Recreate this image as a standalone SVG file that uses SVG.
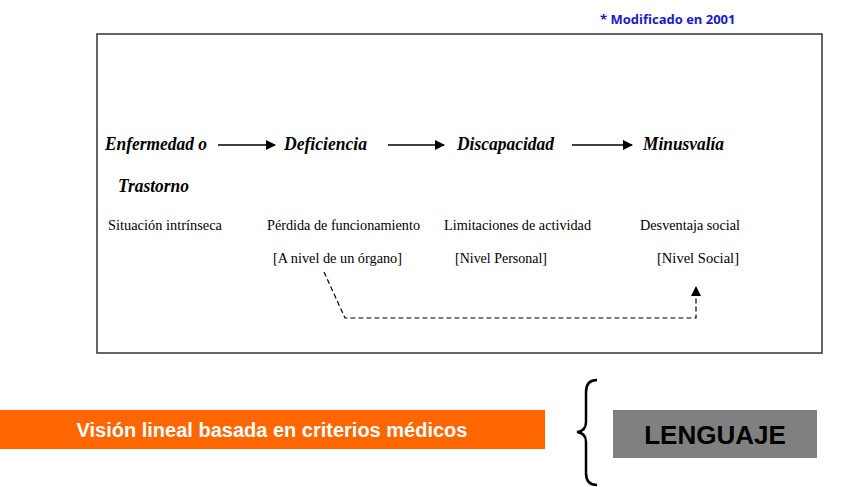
<svg xmlns="http://www.w3.org/2000/svg" width="847" height="487" viewBox="0 0 847 487">
<style>
.h{font-family:"Liberation Serif",serif;font-style:italic;font-weight:bold;font-size:19px;fill:#000}
.s{font-family:"Liberation Serif",serif;font-size:15px;fill:#000}
</style>
<defs><marker id="a" markerWidth="10" markerHeight="10" refX="9" refY="5" orient="auto" markerUnits="userSpaceOnUse"><path d="M0,0L10,5L0,10z" fill="#000"/></marker></defs>
<rect width="847" height="487" fill="#fff"/>
<text x="600" y="24" font-family="Open Sans,sans-serif" font-weight="bold" font-size="13" fill="#1a1acc">* Modificado en 2001</text>
<rect x="97" y="34" width="725" height="319" fill="none" stroke="#333" stroke-width="1.5"/>
<g id="n1"><text class="h" x="105" y="150" textLength="102" lengthAdjust="spacingAndGlyphs">Enfermedad o</text><text class="h" x="118" y="192" textLength="71" lengthAdjust="spacingAndGlyphs">Trastorno</text><text class="s" x="108" y="230" textLength="114" lengthAdjust="spacingAndGlyphs">Situación intrínseca</text></g>
<g id="n2"><text class="h" x="284" y="150" textLength="83" lengthAdjust="spacingAndGlyphs">Deficiencia</text><text class="s" x="267" y="230" textLength="153" lengthAdjust="spacingAndGlyphs">Pérdida de funcionamiento</text><text class="s" x="273" y="263" textLength="129" lengthAdjust="spacingAndGlyphs">[A nivel de un órgano]</text></g>
<g id="n3"><text class="h" x="457" y="150" textLength="97" lengthAdjust="spacingAndGlyphs">Discapacidad</text><text class="s" x="444" y="230" textLength="147" lengthAdjust="spacingAndGlyphs">Limitaciones de actividad</text><text class="s" x="455" y="263" textLength="92" lengthAdjust="spacingAndGlyphs">[Nivel Personal]</text></g>
<g id="n4"><text class="h" x="643" y="150" textLength="81" lengthAdjust="spacingAndGlyphs">Minusvalía</text><text class="s" x="640" y="230" textLength="100" lengthAdjust="spacingAndGlyphs">Desventaja social</text><text class="s" x="657" y="263" textLength="82" lengthAdjust="spacingAndGlyphs">[Nivel Social]</text></g>
<g id="connectors" stroke="#000" fill="none" stroke-width="1.5">
<line x1="218" y1="145" x2="275" y2="145" marker-end="url(#a)"/>
<line x1="388" y1="145" x2="444" y2="145" marker-end="url(#a)"/>
<line x1="572" y1="145" x2="632" y2="145" marker-end="url(#a)"/>
<path d="M324,272L345,318H696V287" stroke-dasharray="5,3" stroke-width="1.2" marker-end="url(#a)"/>
</g>
<g id="bottom">
<rect x="0" y="410" width="545" height="39" fill="#ff6600"/>
<text x="272" y="437" text-anchor="middle" font-family="Liberation Sans,sans-serif" font-weight="bold" font-size="20" fill="#fff">Visión lineal basada en criterios médicos</text>
<path d="M597,380Q586,380 586,392V422Q586,431 577,432Q586,433 586,442V473Q586,485 597,485" fill="none" stroke="#000" stroke-width="2.5"/>
<rect x="613" y="410" width="204" height="48" fill="#808080"/>
<text x="715" y="444" text-anchor="middle" font-family="Liberation Sans,sans-serif" font-weight="bold" font-size="26" fill="#000">LENGUAJE</text>
</g>
</svg>
